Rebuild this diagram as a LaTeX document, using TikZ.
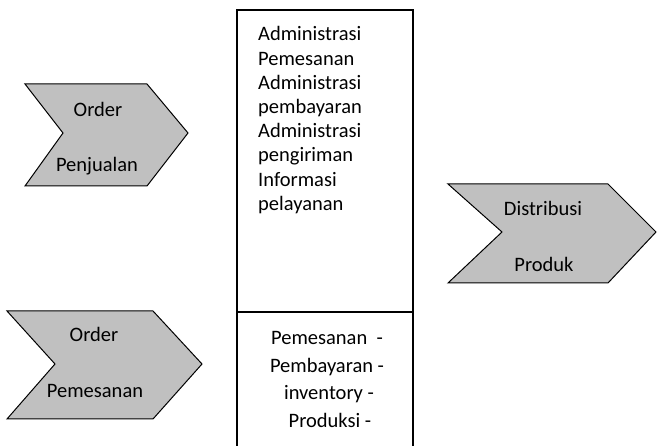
\documentclass[tikz,border=0pt]{standalone}
\usepackage{fontspec}
\setmainfont{Carlito}
\begin{document}
\begin{tikzpicture}[x=1pt,y=-1pt,
  chev/.style={draw=black,fill=chevgray,line width=1pt,line join=miter},
  lbl/.style={anchor=base,inner sep=0pt,font=\fontsize{20.5}{24}\selectfont},
  lft/.style={anchor=base west,inner sep=0pt,font=\fontsize{20.5}{24}\selectfont},
  boxline/.style={draw=black,line width=1.5pt}]
\definecolor{chevgray}{HTML}{C0C0C0}
\useasboundingbox (0,0) rectangle (657,446);
% chevrons
\draw[chev] (25,84) -- (147,84) -- (188,133) -- (147,186) -- (25,186) -- (63,133) -- cycle;
\draw[chev] (7,311) -- (153,311) -- (202,364) -- (153,419) -- (7,419) -- (55,364) -- cycle;
\draw[chev] (448,184) -- (608,184) -- (656,232) -- (608,283) -- (448,283) -- (502,232) -- cycle;
\node[lbl] (o1) at (98,117) {Order};
\node[lbl] (p1) at (97,172) {Penjualan};
\node[lbl] (o2) at (94,342) {Order};
\node[lbl] (p2) at (95,398) {Pemesanan};
\node[lbl] (d3) at (543,216) {Distribusi};
\node[lbl] (p3) at (544,272) {Produk};
% central box
\coordinate (tl) at (237,10);
\coordinate (br) at (413,450);
\draw[boxline] (tl) rectangle (br);
\coordinate (ml) at (237,312);
\coordinate (mr) at (413,312);
\draw[boxline] (ml) -- (mr);
\foreach \t [count=\i from 0] in {Administrasi,Pemesanan,Administrasi,pembayaran,Administrasi,pengiriman,Informasi,pelayanan}
  \node[lft] (u\i) at (258,41+\i*24.2) {\t};
\node[lbl] (l1) at (327,345) {Pemesanan\ \ -};
\node[lbl] (l2) at (327,373) {Pembayaran -};
\node[lbl] (l3) at (329,400) {inventory -};
\node[lbl] (l4) at (330,428) {Produksi -};
\end{tikzpicture}
\end{document}
